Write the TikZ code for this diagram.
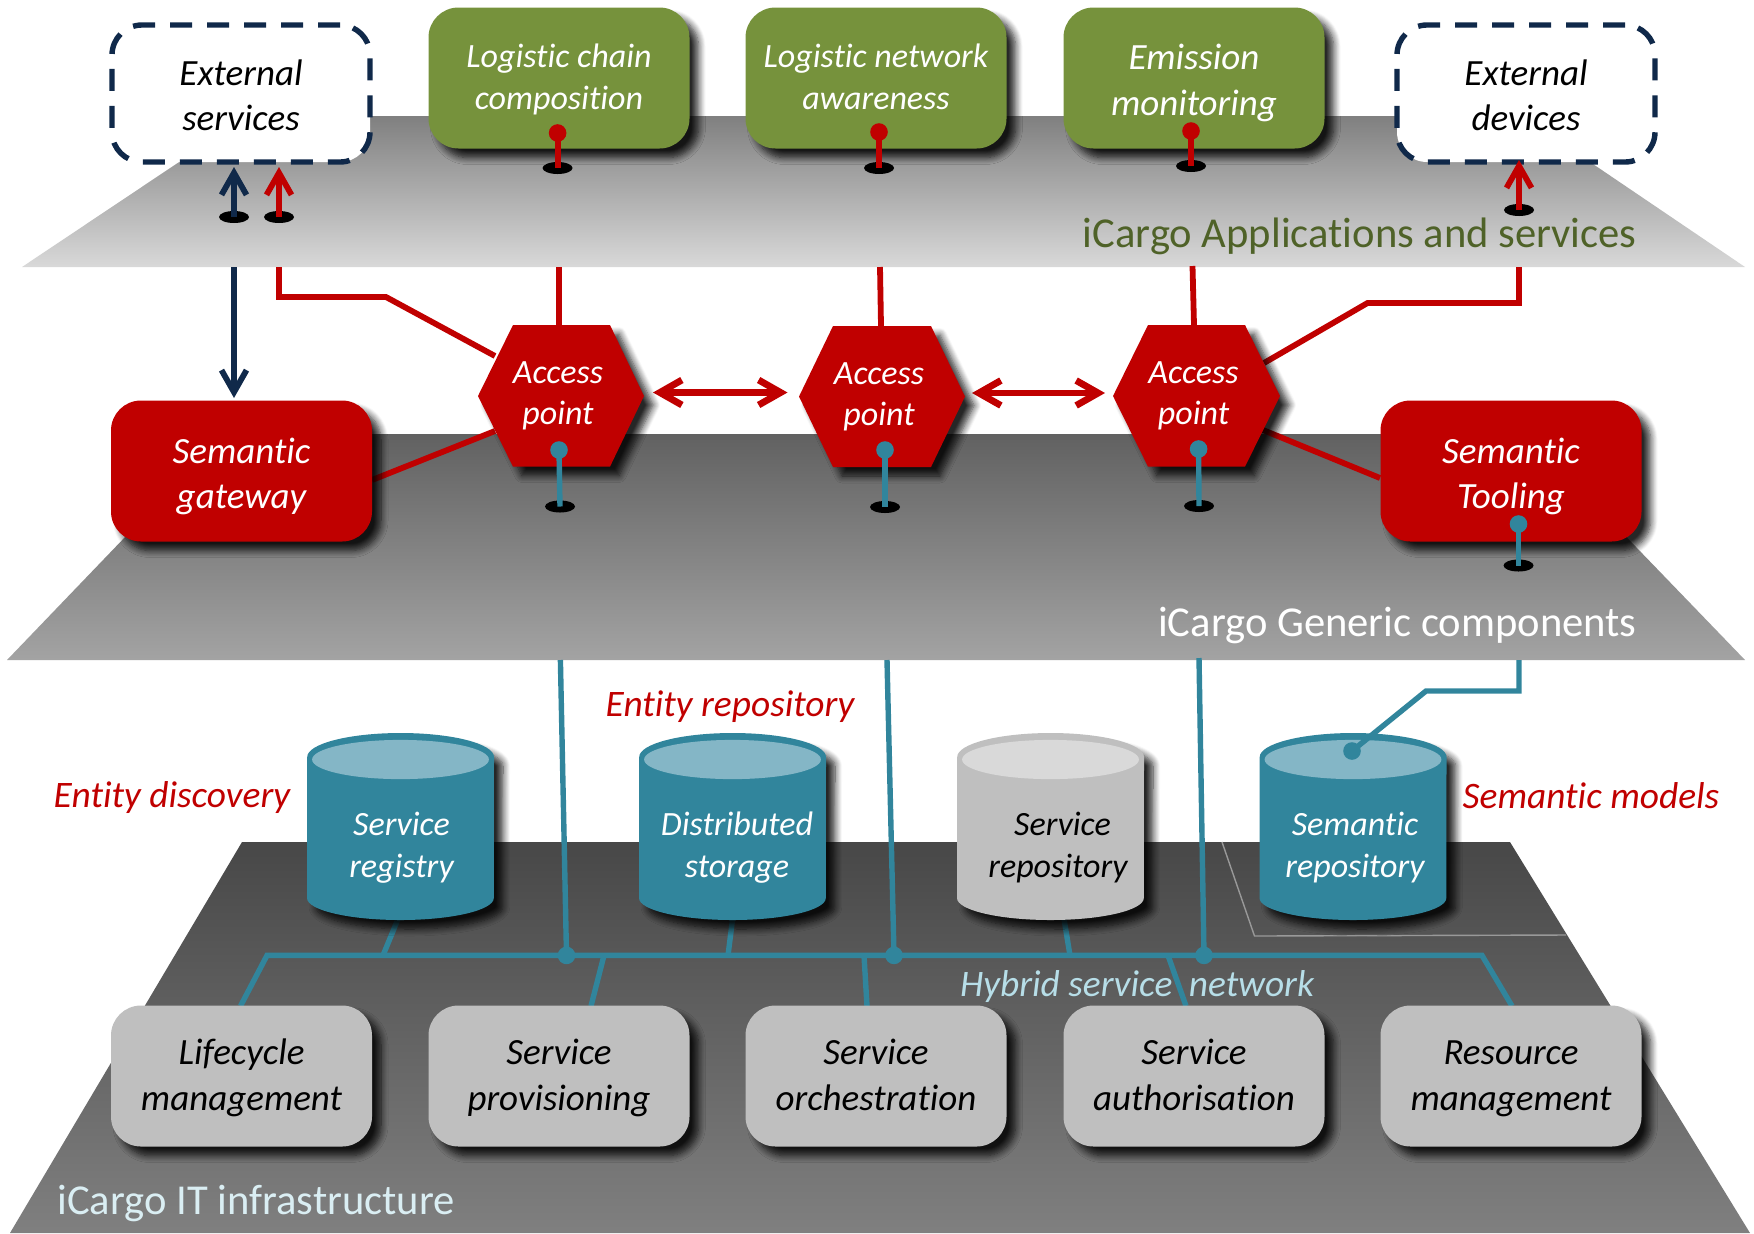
\documentclass[tikz,border=0pt]{standalone}
\usepackage{fontspec}
\setmainfont{Carlito}[Ligatures=NoCommon]
\usetikzlibrary{arrows.meta,shapes.geometric,shadows.blur}
\definecolor{cRed}{HTML}{C00000}
\definecolor{cGreen}{HTML}{76923C}
\definecolor{cDarkGreen}{HTML}{4F6228}
\definecolor{cTeal}{HTML}{31859C}
\definecolor{cTealLight}{HTML}{84B6C6}
\definecolor{cNavy}{HTML}{10294A}
\definecolor{cGrey}{HTML}{BFBFBF}
\definecolor{cGreyLight}{HTML}{D9D9D9}
\definecolor{cHybrid}{HTML}{B7DEE8}
\definecolor{cInfra}{HTML}{DAEEF3}
\newcommand{\twol}[3][0pt]{\rule{0pt}{\dimexpr.86em+#1\relax}#2\\#3\rule[-.235em]{0pt}{.235em}}
\tikzset{
  softshadow/.style={blur shadow={shadow xshift=4.5pt,shadow yshift=-4.5pt,shadow blur radius=3.5pt,shadow blur steps=8,shadow opacity=85}},
  basebox/.style={rectangle,rounded corners=15pt,minimum width=130.5pt,minimum height=70.5pt,inner sep=0pt,align=center,font=\fontsize{18.5}{22.75}\selectfont\itshape},
  box/.style={basebox,softshadow},
  greenbox/.style={box,fill=cGreen,text=white,font=\fontsize{17}{21}\selectfont\itshape},
  redbox/.style={box,fill=cRed,text=white},
  greybox/.style={box,fill=cGrey,text=black},
  extbox/.style={basebox,fill=white,text=black,draw=cNavy,line width=2.7pt,dash pattern=on 11pt off 7.5pt,minimum width=129pt,minimum height=68.5pt},
  hexlabel/.style={inner sep=0pt,align=center,text=white,font=\fontsize{17}{20.5}\selectfont\itshape},
  cyllabel/.style={inner sep=0pt,align=center,font=\fontsize{17}{21.2}\selectfont\itshape},
  sidelabel/.style={inner sep=0pt,text=cRed,font=\fontsize{18.7}{22}\selectfont\itshape},
  layerlabel/.style={inner sep=0pt,font=\fontsize{21.3}{26}\selectfont},
  hole/.style={ellipse,fill=black,inner sep=0pt,minimum width=15pt,minimum height=6pt},
  reddot/.style={circle,fill=cRed,inner sep=0pt,minimum size=8.8pt},
  tealdot/.style={circle,fill=cTeal,inner sep=0pt,minimum size=8.8pt},
  redline/.style={draw=cRed,line width=2.9pt},
  tealline/.style={draw=cTeal,line width=2.7pt},
  navyline/.style={draw=cNavy,line width=2.9pt},
  barb/.style={-{Straight Barb[length=11pt,width=12.5pt]}},
  dbarb/.style={{Straight Barb[length=11pt,width=12.5pt]}-{Straight Barb[length=11pt,width=12.5pt]}},
}
\newcommand{\hexa}[8]{% name, left, flatL, flatR, right, top, bottom, middle
  \path[fill=cRed,softshadow] (#2,#8) -- (#3,#6) -- (#4,#6) -- (#5,#8) -- (#4,#7) -- (#3,#7) -- cycle;
}
\newcommand{\cyl}[3]{% left x, fill, inner fill
  \path[fill=#2,softshadow] (#1,757) -- (#1,898) arc[start angle=180,end angle=360,x radius=46.7pt,y radius=11pt] -- (#1+187,757) arc[start angle=0,end angle=180,x radius=46.7pt,y radius=12pt] -- cycle;
  \fill[#3] (#1+93.5,759.5) ellipse[x radius=44.2pt,y radius=9.8pt];
}
\begin{document}
\begin{tikzpicture}[x=0.5pt,y=-0.5pt]
\useasboundingbox (0,0) rectangle (1754,1233);
% planes
\shade[top color=black!50,bottom color=black!15] (248,116) -- (1522,116) -- (1745,267) -- (22,267) -- cycle;
\shade[top color=black!62,bottom color=black!36] (224,434) -- (1527,434) -- (1745,660) -- (7,660) -- cycle;
\shade[top color=black!72,bottom color=black!50] (242,842) -- (1510,842) -- (1750,1233) -- (10,1233) -- cycle;
\draw[black!40,line width=0.7pt] (1222,842) -- (1254.5,936) -- (1566,935);
% named connector ends
\coordinate (navyTop) at (234,267);
\coordinate (navyEnd) at (234,398);
\coordinate (redA0) at (279,267);
\coordinate (redA1) at (279,297);
\coordinate (redA2) at (386,297);
\coordinate (apAul) at (495,356);
\coordinate (apAll) at (495,431);
\coordinate (gwE) at (372,480);
\coordinate (apAtop) at (559,325);
\coordinate (upA) at (559,267);
\coordinate (apBtop) at (881,326);
\coordinate (upB) at (880,267);
\coordinate (apCtop) at (1194,325);
\coordinate (upC) at (1192.5,266);
\coordinate (redD0) at (1519,267);
\coordinate (redD1) at (1519,303);
\coordinate (redD2) at (1367.5,303);
\coordinate (apCur) at (1264,363);
\coordinate (apClr) at (1263,430);
\coordinate (toolW) at (1380,478);
\coordinate (apArt) at (653,392.5);
\coordinate (apBlt) at (787.5,392.5);
\coordinate (apBrt) at (972,393);
\coordinate (apClt) at (1105,393);
\coordinate (tealA0) at (560.4,660);
\coordinate (tealB0) at (887,660);
\coordinate (tealC0) at (1199,658);
\coordinate (busL) at (267,955.4);
\coordinate (busR) at (1482,955.4);
\coordinate (lifeN) at (240.5,1006);
\coordinate (resN) at (1512,1006);
\coordinate (regS) at (398,919);
\coordinate (regB) at (383,955.4);
\coordinate (disS) at (732.6,919);
\coordinate (disB) at (728,955.4);
\coordinate (repS) at (1064,919);
\coordinate (repB) at (1070,955.4);
\coordinate (proB) at (604,955.4);
\coordinate (proN) at (591,1006);
\coordinate (orcB) at (864,955.4);
\coordinate (orcN) at (867,1006);
\coordinate (autB) at (1168,955.4);
\coordinate (autN) at (1186,1006);
\coordinate (semA) at (1519,660);
\coordinate (semB) at (1519,691);
\coordinate (semC) at (1426,691);
% holes in the planes
\node[hole] (h1) at (557.6,168) {};
\node[hole] (h2) at (879,168) {};
\node[hole] (h3) at (1191,166) {};
\node[hole] (hN) at (234,217) {};
\node[hole] (hR) at (279,217) {};
\node[hole] (hD) at (1519,210) {};
\node[hole] (h4) at (560,506.5) {};
\node[hole] (h5) at (885,507) {};
\node[hole] (h6) at (1199,506) {};
\node[hole] (h7) at (1518.5,565.5) {};
% connectors between layers
\draw[navyline,barb] (navyTop) -- (navyEnd);
\draw[redline,line join=miter] (redA0) -- (redA1) -- (redA2) -- (apAul);
\draw[redline] (upA) -- (apAtop);
\draw[redline] (upB) -- (apBtop);
\draw[redline] (upC) -- (apCtop);
\draw[redline,line join=miter] (redD0) -- (redD1) -- (redD2) -- (apCur);
\draw[redline] (gwE) -- (apAll);
\draw[redline] (toolW) -- (apClr);
\draw[redline,line width=3.4pt,dbarb] (apArt) -- (apBlt);
\draw[redline,line width=3.4pt,dbarb] (apBrt) -- (apClt);
% network
\node[tealdot] (jA) at (566.5,955.4) {};
\node[tealdot] (jB) at (894,955.4) {};
\node[tealdot] (jC) at (1204,955.4) {};
\draw[tealline] (tealA0) -- (jA.center);
\draw[tealline] (tealB0) -- (jB.center);
\draw[tealline] (tealC0) -- (jC.center);
\draw[tealline,line join=miter] (lifeN) -- (busL) -- (busR) -- (resN);
\draw[tealline] (regS) -- (regB);
\draw[tealline] (disS) -- (disB);
\draw[tealline] (repS) -- (repB);
\draw[tealline] (proB) -- (proN);
\draw[tealline] (orcB) -- (orcN);
\draw[tealline] (autB) -- (autN);
% top row
\node[extbox] (extS) at (241,93.5) {\twol[3pt]{External}{services}};
\node[extbox] (extD) at (1526,93.5) {\twol[3pt]{External}{devices}};
\node[greenbox] (lcc) at (559,78) {\twol{Logistic chain}{composition}};
\node[greenbox] (lna) at (876,78) {\twol{Logistic network}{awareness}};
\node[greenbox,font=\fontsize{18.5}{22.75}\selectfont\itshape] (emi) at (1194,78) {\twol[3pt]{Emission}{monitoring}};
% hexagons
\hexa{a}{478}{513}{610}{644}{325}{466.6}{396}
\hexa{b}{799}{833}{931}{965}{326}{467}{396.5}
\hexa{c}{1113}{1148}{1245}{1280}{325}{466.6}{396}
\node[hexlabel] (ap1) at (558,393.5) {\twol{Access}{point}};
\node[hexlabel] (ap2) at (879,394.5) {\twol{Access}{point}};
\node[hexlabel] (ap3) at (1193.5,393.5) {\twol{Access}{point}};
% middle row
\node[redbox] (gw) at (241.5,471) {\twol[3.5pt]{Semantic}{gateway}};
\node[redbox] (tool) at (1511,471) {\twol[3.5pt]{Semantic}{Tooling}};
% cylinders
\cyl{307}{cTeal}{cTealLight}
\cyl{639}{cTeal}{cTealLight}
\cyl{957}{cGrey}{cGreyLight}
\cyl{1259.5}{cTeal}{cTealLight}
\node[cyllabel,text=white] (reg) at (401.5,846) {\twol{Service}{registry}};
\node[cyllabel,text=white] (dis) at (737,846) {\twol{Distributed}{storage}};
\node[cyllabel,text=black] (rep) at (1058,846) {\twol{\hspace*{4.5pt}Service}{repository}};
\node[cyllabel,text=white] (smr) at (1355,846) {\twol{Semantic}{repository}};
% bottom row
\node[greybox] (life) at (241.5,1076) {\twol{Lifecycle}{management}};
\node[greybox] (prov) at (559,1076) {\twol{Service}{provisioning}};
\node[greybox] (orch) at (876,1076) {\twol{Service}{orchestration}};
\node[greybox] (auth) at (1194,1076) {\twol{Service}{authorisation}};
\node[greybox] (res) at (1511,1076) {\twol{Resource}{management}};
% pins
\node[reddot] (d1) at (557.6,133) {};
\node[reddot] (d2) at (879,132) {};
\node[reddot] (d3) at (1191,131) {};
\draw[redline] (d1.center) -- (h1.center);
\draw[redline] (d2.center) -- (h2.center);
\draw[redline] (d3.center) -- (h3.center);
\coordinate (extSa) at (234,167);
\coordinate (extSb) at (279,167);
\coordinate (extDa) at (1519,160);
\draw[navyline,barb] (hN.center) -- (extSa);
\draw[redline,barb] (hR.center) -- (extSb);
\draw[redline,barb] (hD.center) -- (extDa);
\node[tealdot] (d4) at (559,450) {};
\node[tealdot] (d5) at (885,450) {};
\node[tealdot] (d6) at (1198.6,449) {};
\node[tealdot] (d7) at (1518.5,524) {};
\draw[tealline] (d4.center) -- (h4.center);
\draw[tealline] (d5.center) -- (h5.center);
\draw[tealline] (d6.center) -- (h6.center);
\draw[tealline] (d7.center) -- (h7.center);
\node[tealdot] (d8) at (1352,751) {};
\draw[tealline,line join=miter] (semA) -- (semB) -- (semC) -- (d8.center);
% labels
\node[layerlabel,text=cDarkGreen,anchor=east] (l1) at (1637,236.5) {iCargo Applications and services};
\node[layerlabel,text=white,anchor=east] (l2) at (1637,625) {iCargo Generic components};
\node[layerlabel,text=cInfra,anchor=west] (l3) at (57,1203) {iCargo IT infrastructure};
\node[sidelabel] (s1) at (172,798) {Entity discovery};
\node[sidelabel] (s2) at (730,707) {Entity repository};
\node[sidelabel] (s3) at (1591,796) {Semantic models};
\node[sidelabel,text=cHybrid] (s4) at (1137,987) {Hybrid service\hspace{4pt} network};
\end{tikzpicture}
\end{document}
